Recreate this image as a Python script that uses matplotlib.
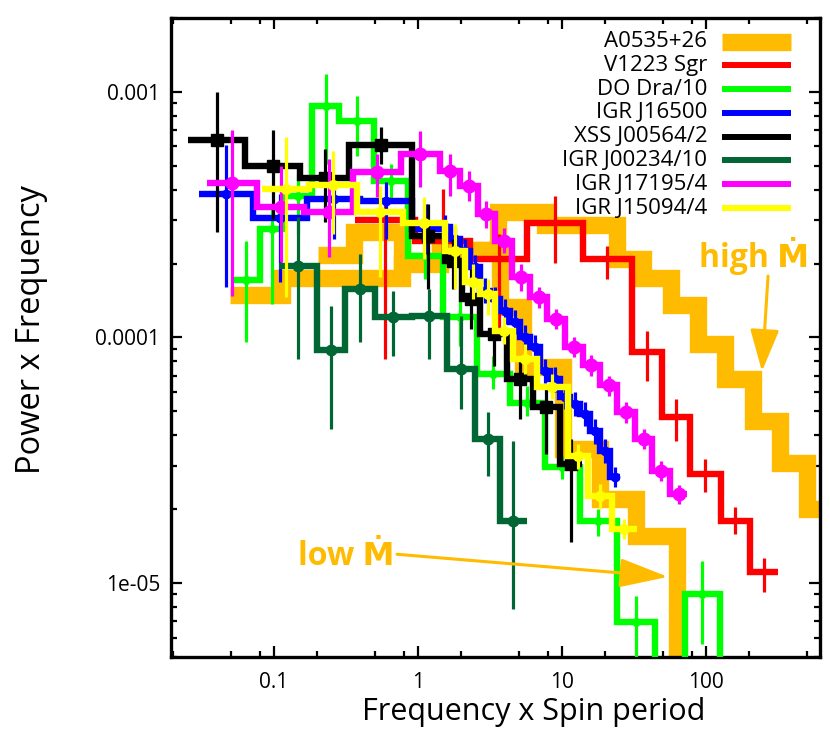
import numpy as np
import matplotlib
matplotlib.use("Agg")
import matplotlib.pyplot as plt

plt.rcParams['font.family'] = ['Open Sans', 'DejaVu Sans']

# ---- data ----
# A0535+26, two states, both drawn in orange
a0535_low_edges = [0.0495, 0.114, 0.774, 1.42, 3.71, 5.36, 10.2, 18.4, 32.6, 62.9, 90.0]
a0535_low_vals = [1.49e-4, 1.74e-4, 1.99e-4, 2.27e-4, 1.33e-4, 7.56e-5, 3.51e-5, 2.19e-5, 1.55e-5, 1e-6]
a0535_high_edges = [0.202, 0.360, 0.774, 1.42, 3.59, 7.62, 24.1, 36.5, 57.1, 88.0, 136, 212, 326, 503, 727]
a0535_high_vals = [2.16e-4, 2.68e-4, 2.05e-4, 2.27e-4, 3.24e-4, 2.86e-4, 2.08e-4, 1.74e-4, 1.35e-4,
                   9.39e-5, 6.76e-5, 4.56e-5, 3.08e-5, 2.0e-5]

v1223_edges = [0.365, 0.953, 2.30, 5.71, 14.0, 30.6, 49.5, 77.4, 127, 202, 316]
v1223_vals = [3.01e-4, 2.47e-4, 2.08e-4, 2.92e-4, 2.08e-4, 8.71e-5, 4.73e-5, 2.78e-5, 1.79e-5, 1.11e-5]
v1223_lo = [8.15e-5, 1.43e-4, 1.08e-4, 2.02e-4, 1.73e-4, 6.64e-5, 3.79e-5, 2.34e-5, 1.58e-5, 9.2e-6]
v1223_hi = [3.48e-4, 4.02e-4, 2.63e-4, 3.76e-4, 2.35e-4, 1.06e-4, 5.61e-5, 3.19e-5, 2.04e-5, 1.27e-5]

dodra_edges = [0.0511, 0.0800, 0.117, 0.184, 0.283, 0.495, 0.853, 1.49, 2.57, 4.35, 7.62, 13.3,
               24.1, 44.2, 71.5, 125, 219]
dodra_vals = [1.71e-4, 2.76e-4, 3.76e-4, 8.75e-4, 7.60e-4, 4.33e-4, 2.14e-4, 1.21e-4, 7.09e-5,
              5.41e-5, 2.96e-5, 1.79e-5, 6.93e-6, 2e-6, 9.0e-6, 1e-7]
dodra_lo = [9.57e-5, 1.37e-4, 2.63e-4, 5.08e-4, 5.47e-4, 3.66e-4, 1.73e-4, 9.23e-5, 6.16e-5,
            4.78e-5, 2.65e-5, 1.55e-5, 3e-6, np.nan, 5.64e-6, np.nan]
dodra_hi = [2.47e-4, 3.33e-4, 4.62e-4, 1.18e-3, 9.6e-4, 5.08e-4, 2.68e-4, 1.62e-4, 8.39e-5,
            6.34e-5, 3.29e-5, 2.0e-5, 8.85e-6, np.nan, 1.23e-5, np.nan]

j16500_edges = [0.0301, 0.0715, 0.170, 0.396, 0.908, 1.42, 1.67, 1.96, 2.30, 2.70, 3.16, 3.71,
                4.35, 5.11, 6.00, 7.03, 8.25, 9.68, 11.4, 13.3, 15.6, 18.4, 21.5, 25.3]
j16500_vals = [3.83e-4, 3.06e-4, 3.66e-4, 3.59e-4, 2.76e-4, 2.81e-4, 2.51e-4, 2.25e-4, 1.93e-4,
               1.55e-4, 1.43e-4, 1.28e-4, 1.16e-4, 1.00e-4, 9.12e-5, 7.29e-5, 6.76e-5, 5.71e-5,
               5.35e-5, 4.87e-5, 4.15e-5, 3.44e-5, 2.70e-5]
j16500_lo = [1.60e-4, 1.69e-4, 2.51e-4, 2.51e-4, 2.18e-4, 2.5e-4, 2.24e-4, 2.0e-4, 1.72e-4,
             1.38e-4, 1.27e-4, 1.14e-4, 1.03e-4, 8.9e-5, 8.1e-5, 6.5e-5, 6.0e-5, 5.1e-5,
             4.8e-5, 4.35e-5, 3.7e-5, 3.07e-5, 2.45e-5]
j16500_hi = [6.07e-4, 3.83e-4, 4.13e-4, 4.29e-4, 3.48e-4, 3.15e-4, 2.81e-4, 2.52e-4, 2.16e-4,
             1.74e-4, 1.6e-4, 1.43e-4, 1.3e-4, 1.12e-4, 1.02e-4, 8.2e-5, 7.6e-5, 6.4e-5,
             6.0e-5, 5.45e-5, 4.65e-5, 3.85e-5, 2.98e-5]

xss_edges = [0.0253, 0.0629, 0.152, 0.332, 0.908, 1.54, 2.02, 2.70, 4.15, 6.29, 9.68, 13.8]
xss_vals = [6.36e-4, 5.0e-4, 4.45e-4, 6.07e-4, 2.58e-4, 2.05e-4, 1.43e-4, 1.03e-4, 6.76e-5, 5.2e-5, 3.05e-5]
xss_lo = [2.68e-4, 3.03e-4, 2.95e-4, 5.08e-4, 1.57e-4, 1.57e-4, 1.08e-4, 7.63e-5, 4.65e-5, 3.35e-5, 1.47e-5]
xss_hi = [1.0e-3, 6.99e-4, 5.84e-4, 7.18e-4, 3.48e-4, 2.51e-4, 1.90e-4, 1.34e-4, 8.16e-5, 6.46e-5, 3.85e-5]

j00234_edges = [0.108, 0.199, 0.311, 0.503, 0.908, 1.59, 2.49, 3.71, 5.71]
j00234_vals = [1.95e-4, 8.88e-5, 1.57e-4, 1.21e-4, 1.22e-4, 7.43e-5, 3.85e-5, 1.79e-5]
j00234_lo = [8.16e-5, 4.23e-5, 9.57e-5, 8.39e-5, 8.16e-5, 5.10e-5, 2.72e-5, 7.83e-6]
j00234_hi = [3.09e-4, 1.34e-4, 2.18e-4, 1.55e-4, 1.57e-4, 1.22e-4, 4.96e-5, 3.79e-5]

j17195_edges = [0.0343, 0.0762, 0.162, 0.354, 0.762, 1.42, 1.96, 2.59, 3.43, 4.53, 6.00, 7.93,
                10.5, 13.9, 18.4, 24.3, 32.1, 42.5, 56.2, 74.4]
j17195_vals = [4.25e-4, 3.39e-4, 3.24e-4, 4.71e-4, 5.57e-4, 4.75e-4, 4.13e-4, 3.18e-4, 2.47e-4,
               1.76e-4, 1.46e-4, 1.19e-4, 9.12e-5, 7.70e-5, 6.39e-5, 4.96e-5, 3.85e-5, 2.86e-5, 2.30e-5]
j17195_lo = [1.47e-4, 2.03e-4, 2.12e-4, 3.72e-4, 4.09e-4, 3.76e-4, 3.6e-4, 2.8e-4, 2.2e-4,
             1.55e-4, 1.32e-4, 1.08e-4, 8.3e-5, 7.0e-5, 5.8e-5, 4.5e-5, 3.5e-5, 2.6e-5, 2.1e-5]
j17195_hi = [6.99e-4, 4.99e-4, 5.32e-4, 5.57e-4, 6.92e-4, 5.57e-4, 4.75e-4, 3.6e-4, 2.8e-4,
             2.0e-4, 1.6e-4, 1.31e-4, 1.0e-4, 8.5e-5, 7.0e-5, 5.45e-5, 4.25e-5, 3.15e-5, 2.5e-5]

j15094_edges = [0.0826, 0.175, 0.377, 0.787, 1.54, 2.12, 2.70, 3.43, 4.57, 6.70, 11.0, 15.2, 22.2, 33.2]
j15094_vals = [4.01e-4, 4.17e-4, 3.24e-4, 2.92e-4, 2.25e-4, 1.68e-4, 1.50e-4, 1.06e-4, 8.16e-5,
               6.28e-5, 3.29e-5, 2.26e-5, 1.66e-5]
j15094_lo = [1.46e-4, 2.63e-4, 1.77e-4, 2.08e-4, 1.57e-4, 1.43e-4, 1.24e-4, 9.39e-5, 7.09e-5,
             5.61e-5, 2.91e-5, 2.0e-5, 1.51e-5]
j15094_hi = [6.54e-4, 5.74e-4, 4.13e-4, 3.72e-4, 2.89e-4, 1.99e-4, 1.73e-4, 1.21e-4, 9.39e-5,
             7.09e-5, 3.67e-5, 2.53e-5, 1.82e-5]

ORANGE = "#ffbb00"
LEGEND = [("A0535+26", ORANGE, 12.5), ("V1223 Sgr", "#ff0000", 4.3), ("DO Dra/10", "#00ff00", 4.3),
          ("IGR J16500", "#0000ff", 4.3), ("XSS J00564/2", "#000000", 4.3),
          ("IGR J00234/10", "#006633", 4.3), ("IGR J17195/4", "#ff00ff", 4.3),
          ("IGR J15094/4", "#ffff00", 4.3)]

# (edges, values, lo, hi, colour, marker, markersize)
SERIES = [
    (v1223_edges, v1223_vals, v1223_lo, v1223_hi, "#ff0000", "none", 0),
    (dodra_edges, dodra_vals, dodra_lo, dodra_hi, "#00ff00", "D", 5.5),
    (j16500_edges, j16500_vals, j16500_lo, j16500_hi, "#0000ff", "o", 6),
    (xss_edges, xss_vals, xss_lo, xss_hi, "#000000", "s", 9),
    (j00234_edges, j00234_vals, j00234_lo, j00234_hi, "#006633", "o", 7.5),
    (j17195_edges, j17195_vals, j17195_lo, j17195_hi, "#ff00ff", "o", 9),
    (j15094_edges, j15094_vals, j15094_lo, j15094_hi, "#ffff00", "o", 7),
]

fig = plt.figure(figsize=(8.3, 7.53), dpi=100)
ax = fig.add_axes([0.2066, 0.1275, 0.7814, 0.8486])
ax.set_xscale("log")
ax.set_yscale("log")

# orange steps (behind everything)
ax.stairs(a0535_low_vals, a0535_low_edges, baseline=None, color=ORANGE, lw=12.5, zorder=2)
ax.stairs(a0535_high_vals, a0535_high_edges, baseline=None, color=ORANGE, lw=12.5, zorder=2)

z = 3
for edges, vals, lo, hi, col, mk, ms in SERIES:
    e = np.array(edges, dtype=float)
    v = np.array(vals, dtype=float)
    xc = np.sqrt(e[:-1] * e[1:])
    ax.stairs(v, e, baseline=None, color=col, lw=4.6, zorder=z)
    ok = ~np.isnan(np.array(lo, dtype=float))
    yerr = [v[ok] - np.array(lo)[ok], np.array(hi)[ok] - v[ok]]
    ax.errorbar(xc[ok], v[ok], yerr=yerr, fmt=mk, ms=ms, color=col, mec=col,
                elinewidth=2.3, capsize=0, linestyle="none", zorder=z + 0.5)
    z += 1

ax.set_xticks([0.1, 1, 10, 100])
ax.set_xticklabels(["0.1", "1", "10", "100"])
minor_x = [m * 10.0 ** k for k in range(-2, 3) for m in (2, 5, 8)]
ax.set_xticks(minor_x, minor=True)
ax.set_yticks([1e-5, 1e-4, 1e-3])
ax.set_yticklabels(["1e-05", "0.0001", "0.001"])
minor_y = [m * 10.0 ** k for k in range(-6, -2) for m in range(2, 10)]
ax.set_yticks(minor_y, minor=True)
ax.yaxis.set_minor_formatter(plt.NullFormatter())
ax.xaxis.set_minor_formatter(plt.NullFormatter())
ax.set_xlim(0.0194, 620)
ax.set_ylim(5e-6, 2e-3)

ax.tick_params(which="both", direction="in", top=True, right=True, width=1.6, labelsize=15)
ax.tick_params(which="major", length=8)
ax.tick_params(which="minor", length=4)
ax.tick_params(axis="x", pad=11)
ax.tick_params(axis="y", pad=8)
for s in ax.spines.values():
    s.set_linewidth(2.4)

ax.set_xlabel("Frequency x Spin period", fontsize=22)
ax.xaxis.set_label_coords(0.559, -0.062)
ax.set_ylabel("Power x Frequency", fontsize=23.5)
ax.yaxis.set_label_coords(-0.19, 0.513)

# legend drawn by hand: text right-aligned, sample line to its right
for i, (name, col, lw) in enumerate(LEGEND):
    yy = 0.963 - i * 0.0372
    ax.plot([0.849, 0.955], [yy, yy], transform=ax.transAxes, color=col, lw=lw,
            solid_capstyle="butt", zorder=20)
    ax.text(0.826, yy, name, transform=ax.transAxes, ha="right", va="center", fontsize=16, zorder=20)

# annotations
ax.text(215, 1.93e-4, "high Ṁ", color=ORANGE, fontsize=23, fontweight="bold",
        ha="center", va="baseline", zorder=20)
ax.annotate("", xy=(245, 7.28e-5), xytext=(270, 1.78e-4),
            arrowprops=dict(arrowstyle="-|>,head_length=1.3,head_width=0.45", color=ORANGE,
                            lw=2.2, mutation_scale=20, shrinkA=0, shrinkB=0), zorder=20)
ax.text(0.316, 1.18e-5, "low Ṁ", color=ORANGE, fontsize=23, fontweight="bold",
        ha="center", va="baseline", zorder=20)
ax.annotate("", xy=(54.5, 1.06e-5), xytext=(0.715, 1.31e-5),
            arrowprops=dict(arrowstyle="-|>,head_length=1.5,head_width=0.45", color=ORANGE,
                            lw=2.2, mutation_scale=20, shrinkA=0, shrinkB=0), zorder=20)

fig.savefig("out.png", dpi=100)
